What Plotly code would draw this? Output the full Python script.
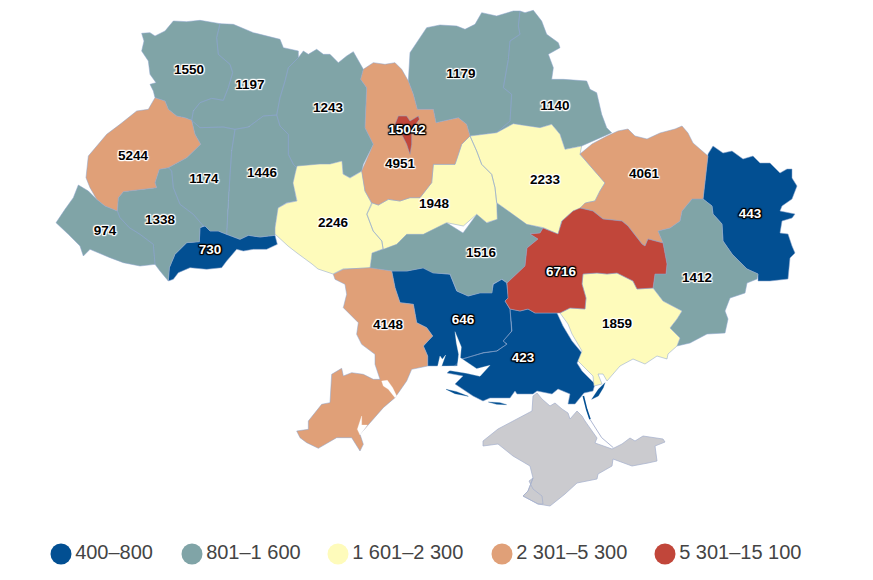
import plotly.graph_objects as go

# ---- data ----
REGIONS = ["Volyn","Rivne","Zhytomyr","Kyiv oblast","Kyiv city","Chernihiv","Sumy","Lviv","Ternopil",
           "Khmelnytskyi","Zakarpattia","Ivano-Frankivsk","Chernivtsi","Vinnytsia","Cherkasy","Poltava",
           "Kharkiv","Luhansk","Kirovohrad","Dnipropetrovsk","Donetsk","Odesa","Mykolaiv","Kherson","Zaporizhzhia"]
VALUES = [1550,1197,1243,4951,15042,1179,1140,5244,1174,1446,974,1338,730,2246,1948,2233,
          4061,443,1516,6716,1412,4148,646,423,1859]
LABEL_X = [189,250,328,400,407,461,555,133,204,262,105,160,210,333,434,545,644,750,481,561,697,388,463,523,617]
LABEL_Y = [70,85,108,164,130,74,106,156,179,173,231,220,250,223,204,180,174,214,253,272,278,325,320,358,324]
BIN_TOPS = [800,1600,2300,5300,15100]
BIN_NAMES = ["400–800","801–1 600","1 601–2 300","2 301–5 300","5 301–15 100"]
BIN_COLORS = ["#024f92","#80a4a7","#fefbbb","#e0a078","#c1463a"]
LEGEND_X = [61,192,338,502,665]
LEGEND_Y = [553]*5

def z(ox, oy, pts):
    return [(ox + a/3, oy + b/3) for a, b in pts]

BOUNDS = {
"Volyn": z(40,0,[(305,97),(330,95),(345,105),(375,90),(400,60),(440,62),(480,58),(540,68),(530,110),(535,160),(570,190),(578,215),(565,260),(550,298),(515,292),(480,305),(460,330),(455,358),(435,350),(410,345),(385,325),(375,300),(345,290),(340,270),(330,250),(348,245),(330,220),(325,180),(305,150),(312,120)]),
"Rivne": z(40,0,[(540,68),(580,70),(640,95),(680,105),(720,115),(730,140),(775,150),(775,170),(745,200),(735,240),(720,290),(710,342),(670,345),(625,378),(585,385),(550,378),(480,380),(455,358),(460,330),(480,305),(515,292),(550,298),(565,260),(578,215),(570,190),(535,160),(530,110)]),
"Zhytomyr": z(40,0,[(775,170),(790,150),(805,160),(830,145),(850,160),(870,160),(895,185),(920,165),(940,152),(960,190),(970,205),(962,235),(980,260),(975,380),(1000,430),(970,490),(965,510),(930,530),(910,520),(905,480),(870,490),(840,490),(770,500),(760,490),(745,460),(745,400),(720,375),(710,342),(720,290),(735,240),(745,200)]),
"Kyiv oblast": z(330,0,[(92,235),(100,205),(130,185),(165,190),(195,185),(215,205),(235,240),(250,280),(262,325),(310,325),(318,365),(385,350),(410,370),(420,405),(395,430),(375,490),(310,490),(305,545),(270,590),(240,590),(210,600),(175,595),(145,612),(125,605),(105,570),(95,510),(130,430),(105,380),(110,260)]),
"Kyiv city": z(330,0,[(195,370),(205,345),(230,345),(240,360),(265,345),(268,355),(250,380),(245,400),(245,430),(240,460),(230,430),(215,400)]),
"Chernihiv": z(330,0,[(235,240),(240,155),(290,80),(330,72),(380,75),(405,85),(435,70),(455,35),(500,45),(550,30),(570,30),(565,75),(570,100),(540,120),(535,175),(520,260),(545,280),(540,360),(500,395),(465,400),(420,405),(410,370),(385,350),(318,365),(310,325),(262,325),(250,280)]),
"Sumy": z(330,0,[(570,30),(585,35),(610,28),(635,60),(650,100),(685,125),(690,140),(655,160),(670,200),(665,235),(700,235),(770,240),(780,265),(800,275),(815,340),(830,380),(845,395),(775,425),(755,435),(705,445),(690,400),(665,370),(630,380),(590,375),(550,368),(500,395),(540,360),(545,280),(520,260),(535,175),(540,120),(570,100),(565,75)]),
"Lviv": z(40,0,[(345,290),(375,300),(385,325),(410,345),(435,350),(455,358),(465,400),(482,430),(440,470),(385,500),(358,505),(345,545),(350,560),(300,565),(250,572),(235,590),(232,630),(195,615),(170,595),(150,560),(138,530),(145,465),(200,400),(240,370),(290,330),(325,325)]),
"Ternopil": z(40,0,[(455,358),(480,380),(550,378),(585,385),(575,450),(570,520),(565,600),(560,700),(535,690),(510,690),(495,675),(490,675),(460,640),(420,610),(400,560),(395,510),(385,500),(440,470),(482,430),(465,400)]),
"Khmelnytskyi": z(40,0,[(585,385),(625,378),(670,345),(710,342),(720,375),(745,400),(745,460),(760,490),(770,500),(760,545),(770,600),(740,605),(715,620),(705,680),(705,703),(660,708),(625,703),(600,715),(560,700),(565,600),(570,520),(575,450)]),
"Zakarpattia": z(40,0,[(115,552),(145,570),(170,595),(195,615),(232,630),(240,650),(268,680),(300,700),(340,730),(345,790),(300,795),(250,785),(210,770),(175,755),(150,745),(130,765),(120,735),(85,700),(48,665),(75,625),(100,590)]),
"Ivano-Frankivsk": z(40,0,[(232,630),(235,590),(250,572),(300,565),(350,560),(345,545),(358,505),(385,500),(395,510),(400,560),(420,610),(460,640),(490,675),(480,680),(478,722),(440,725),(405,760),(388,800),(385,840),(360,810),(345,790),(340,730),(300,700),(268,680),(240,650)]),
"Chernivtsi": z(40,0,[(480,680),(495,675),(510,690),(535,690),(560,700),(600,715),(625,703),(660,708),(705,703),(712,730),(680,745),(640,745),(610,750),(590,745),(560,780),(545,800),(500,805),(450,800),(415,815),(400,835),(385,840),(388,800),(405,760),(440,725),(478,722)]),
"Vinnytsia": [(297,165),(320,163),(330,163),(342,160),(343,173),(350,177),(362,170),(365,190),(372,203),(367,213),(373,230),(382,240),(383,248),(372,252),(371,260),(370,267),(343,268),(333,273),(318,268),(312,263),(297,252),(288,245),(275,233),(275,227),(278,207),(287,202),(297,200),(293,182),(295,173)],
"Cherkasy": z(330,0,[(420,405),(440,450),(455,490),(485,520),(495,560),(500,605),(502,655),(470,665),(440,640),(400,675),(350,665),(280,700),(230,700),(200,730),(160,745),(155,720),(130,690),(110,640),(125,605),(145,612),(175,595),(210,600),(240,590),(270,590),(305,545),(310,490),(375,490),(395,430)]),
"Poltava": z(330,0,[(420,405),(465,400),(500,395),(550,368),(590,375),(630,380),(665,370),(690,400),(705,445),(755,435),(750,460),(785,500),(825,545),(810,570),(795,600),(770,605),(775,620),(730,630),(695,660),(685,700),(640,680),(590,670),(550,640),(500,605),(495,560),(485,520),(455,490),(440,450)]),
"Kharkiv": [(580,153),(592,143),(607,135),(618,130),(628,128),(635,135),(647,138),(660,132),(675,128),(682,125),(688,132),(693,142),(708,155),(706,173),(703,198),(692,198),(682,210),(680,220),(670,227),(658,230),(663,242),(648,238),(645,245),(642,243),(628,225),(622,220),(603,218),(593,210),(580,207),(585,202),(595,200),(600,190),(605,182),(592,167)],
"Luhansk": [(703,198),(706,173),(708,153),(713,145),(723,152),(732,150),(743,158),(753,155),(760,162),(770,162),(780,172),(787,168),(792,168),(792,177),(797,185),(792,198),(782,205),(780,210),(790,212),(795,213),(792,217),(782,220),(780,232),(788,233),(792,245),(795,252),(790,257),(788,278),(770,280),(758,280),(758,273),(747,268),(732,253),(723,240),(722,223),(713,213),(712,205)],
"Kirovohrad": [(383,248),(400,240),(397,233),(413,222),(447,222),(463,232),(477,213),(487,222),(497,218),(497,202),(513,213),(527,223),(543,227),(540,232),(530,233),(538,238),(527,247),(525,265),(507,282),(502,278),(493,283),(492,292),(480,292),(468,295),(457,290),(450,273),(433,272),(423,267),(407,270),(392,270),(370,267),(371,260),(372,252)],
"Dnipropetrovsk": [(527,247),(538,238),(530,233),(540,232),(543,227),(558,233),(562,220),(573,210),(580,207),(593,210),(603,218),(622,220),(628,225),(642,243),(645,245),(648,238),(663,242),(665,253),(667,263),(666,273),(655,273),(653,287),(637,288),(633,280),(617,272),(607,273),(597,272),(583,273),(582,283),(586,297),(585,308),(570,307),(560,312),(557,312),(535,312),(528,308),(520,310),(510,308),(505,300),(508,297),(507,282),(525,265)],
"Donetsk": [(658,230),(670,227),(680,220),(682,210),(692,198),(703,198),(712,205),(713,213),(722,223),(723,240),(732,253),(747,268),(758,273),(757,278),(747,282),(745,292),(730,297),(725,310),(728,318),(725,332),(707,333),(690,342),(677,345),(680,337),(670,327),(677,318),(682,310),(663,300),(653,287),(655,273),(666,273),(667,263),(665,253),(663,242)],
"Odesa": z(280,240,[(160,100),(190,85),(270,80),(335,90),(345,140),(360,185),(400,190),(410,245),(440,260),(458,285),(430,315),(443,345),(443,375),(395,385),(380,420),(345,470),(310,500),(260,555),(240,580),(250,610),(240,630),(215,590),(170,590),(115,622),(80,605),(60,590),(50,570),(85,565),(85,540),(125,490),(150,485),(155,400),(185,382),(190,405),(215,395),(250,400),(280,415),(300,415),(285,370),(285,340),(245,310),(230,280),(235,245),(190,200),(200,160),(195,130),(165,115)]),
"Mykolaiv": z(280,240,[(335,90),(380,90),(430,80),(460,95),(510,100),(530,150),(565,165),(600,155),(635,155),(640,130),(665,115),(680,125),(685,170),(675,180),(690,205),(692,240),(695,270),(670,300),(680,310),(650,330),(610,335),(545,355),(530,375),(500,375),(443,375),(443,345),(430,315),(458,285),(440,260),(410,245),(400,190),(360,185),(345,140)]),
"Kherson": [(510,308),(520,310),(528,308),(535,312),(557,312),(563,325),(572,340),(582,352),(577,362),(582,370),(595,383),(593,390),(584,392),(575,403),(568,403),(570,393),(558,388),(552,393),(537,390),(533,393),(517,393),(515,390),(510,397),(490,397),(483,400),(473,395),(455,383),(463,375),(447,372),(462,358),(483,352),(497,350),(507,343),(503,340),(512,330),(511,320)],
"Zaporizhzhia": [(583,273),(597,272),(607,273),(617,272),(633,280),(637,288),(653,287),(663,300),(682,310),(677,318),(670,327),(680,337),(677,345),(668,353),(667,358),(657,355),(645,363),(633,358),(620,365),(607,380),(603,373),(598,373),(602,383),(594,385),(593,375),(578,360),(582,350),(572,333),(568,323),(560,312),(570,307),(585,308),(586,297),(582,283)],
}
CRIMEA = [(533,395),(537,392),(542,398),(550,405),(555,402),(562,408),(568,412),(570,418),(577,410),(582,415),(585,420),(590,427),(597,437),(595,442),(612,448),(622,443),(630,437),(635,440),(643,435),(663,438),(665,441),(655,445),(657,460),(648,462),(632,465),(613,458),(612,465),(598,473),(597,478),(577,482),(565,493),(550,505),(538,503),(523,495),(528,490),(533,477),(530,465),(513,455),(498,443),(483,445),(483,440),(498,428),(513,420),(532,410)]
SEVASTOPOL = [(533,477),(529,480),(533,488),(542,495),(543,503),(538,503),(523,495),(528,490)]
WATER = [
 z(280,240,[(525,272),(533,290),(544,318),(541,350),(590,383),(630,373),(600,406),(560,397),(490,385),(445,378),(470,378),(532,375),(536,340),(529,305)]),
 z(280,240,[(480,345),(487,355),(497,342),(485,375),(472,380)]),
 z(280,240,[(305,420),(322,418),(338,440),(350,465),(345,470),(325,445),(310,435)]),
 z(280,240,[(245,525),(232,565),(240,582),(262,552),(245,552)]),
]
ISLETS = [
 z(280,240,[(498,445),(530,452),(565,466),(525,458)]),
 z(280,240,[(625,483),(660,485),(680,491),(650,490)]),
 z(470,340,[(365,175),(385,145),(405,125),(400,140),(385,165)]),
]
SPIT_DARK = z(470,340,[(340,165),(350,205),(360,235)])
SPIT_GREY = z(470,340,[(360,235),(395,290),(430,320)])

def bin_of(v):
    for i, top in enumerate(BIN_TOPS):
        if v <= top:
            return i
    return len(BIN_TOPS) - 1

def ring_xy(rings):
    xs, ys = [], []
    for r in rings:
        xs += [p[0] for p in r] + [r[0][0], None]
        ys += [p[1] for p in r] + [r[0][1], None]
    return xs, ys

STROKE = "rgba(140,165,205,0.75)"
fig = go.Figure()

def poly(rings, color, name, line=STROKE, w=0.7):
    xs, ys = ring_xy(rings)
    fig.add_trace(go.Scatter(x=xs, y=ys, mode="lines", fill="toself", fillcolor=color,
                             line=dict(color=line, width=w), name=name, hoverinfo="name", showlegend=False))

poly([CRIMEA, SEVASTOPOL], "#cbcbcf", "Crimea", "rgba(165,175,205,0.9)", 0.8)
for b in range(len(BIN_TOPS)):
    rings = [BOUNDS[n] for n, v in zip(REGIONS, VALUES) if bin_of(v) == b]
    poly(rings, BIN_COLORS[b], BIN_NAMES[b])
poly(WATER, "#ffffff", "water", "#ffffff", 0.3)
poly(ISLETS, BIN_COLORS[0], "islets", BIN_COLORS[0], 0.3)
for pts, col, w in ((SPIT_DARK, BIN_COLORS[0], 1.6), (SPIT_GREY, "rgba(165,175,205,0.9)", 1.0)):
    fig.add_trace(go.Scatter(x=[p[0] for p in pts], y=[p[1] for p in pts], mode="lines",
                             line=dict(color=col, width=w), hoverinfo="skip", showlegend=False))

def halo(c):
    return ",".join(f"{a}px {b}px 1px {c}" for a, b in ((1,1),(-1,1),(1,-1),(-1,-1),(0,1),(1,0),(0,-1),(-1,0)))

for dark in (False, True):
    idx = [i for i in range(len(VALUES)) if (bin_of(VALUES[i]) in (0, 4)) == dark]
    fig.add_trace(go.Scatter(
        x=[LABEL_X[i] for i in idx], y=[LABEL_Y[i] for i in idx],
        text=[str(VALUES[i]) for i in idx], mode="text", textposition="middle center",
        textfont=dict(family="Liberation Sans, Arial, sans-serif", size=13.5, weight="bold",
                      color="#ffffff" if dark else "#000000", shadow=halo("#000000" if dark else "#ffffff")),
        hoverinfo="skip", showlegend=False))

for x, y, c, t in zip(LEGEND_X, LEGEND_Y, BIN_COLORS, BIN_NAMES):
    fig.add_trace(go.Scatter(x=[x], y=[y], mode="markers+text", text=[t], textposition="middle right",
                             marker=dict(size=21, color=c, line=dict(width=0)),
                             textfont=dict(family="Liberation Sans, Arial, sans-serif", size=20, color="#444444"),
                             hoverinfo="skip", showlegend=False, cliponaxis=False))

# the page keeps an 8 px body margin, so the drawing area starts 8 px in
fig.update_layout(width=865, height=573, margin=dict(l=0, r=0, t=0, b=0), paper_bgcolor="white",
                  plot_bgcolor="white", showlegend=False,
                  xaxis=dict(range=[8, 873], visible=False, fixedrange=True),
                  yaxis=dict(range=[580, 7], visible=False, fixedrange=True))
fig.write_html("out.html", config={"displayModeBar": False})
